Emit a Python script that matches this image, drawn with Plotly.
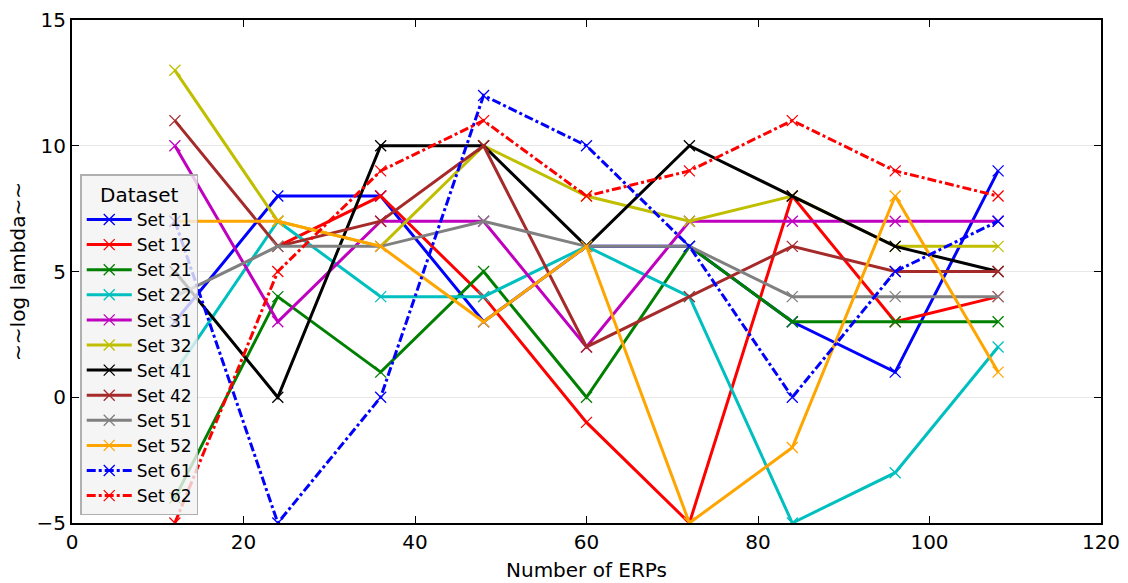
import plotly.graph_objects as go

x_vals = [12, 24, 36, 48, 60, 72, 84, 96, 108]

set_names = ["Set 11", "Set 12", "Set 21", "Set 22", "Set 31", "Set 32",
             "Set 41", "Set 42", "Set 51", "Set 52", "Set 61", "Set 62"]

set_11 = [3, 8, 8, 3, 6, 6, 3, 1, 9]
set_12 = [None, 6, 8, 4, -1, -5, 8, 3, 4]
set_21 = [-4, 4, 1, 5, 0, 6, 3, 3, 3]
set_22 = [1, 7, 4, 4, 6, 4, -5, -3, 2]
set_31 = [10, 3, 7, 7, 2, 7, 7, 7, 7]
set_32 = [13, 7, 6, 10, 8, 7, 8, 6, 6]
set_41 = [5, 0, 10, 10, 6, 10, 8, 6, 5]
set_42 = [11, 6, 7, 10, 2, 4, 6, 5, 5]
set_51 = [4, 6, 6, 7, 6, 6, 4, 4, 4]
set_52 = [7, 7, 6, 3, 6, -5, -2, 8, 1]
set_61 = [7, -5, 0, 12, 10, 6, 0, 5, 7]
set_62 = [-5, 5, 9, 11, 8, 9, 11, 9, 8]

series = [set_11, set_12, set_21, set_22, set_31, set_32,
          set_41, set_42, set_51, set_52, set_61, set_62]

colors = ["#0000ff", "#ff0000", "#008000", "#00bfbf", "#bf00bf", "#bfbf00",
          "#000000", "#a52a2a", "#808080", "#ffa500", "#0000ff", "#ff0000"]
dashes = ["solid"] * 10 + ["dashdot", "dashdot"]

fig = go.Figure()
for name, ys, c, d in zip(set_names, series, colors, dashes):
    fig.add_trace(go.Scatter(
        x=x_vals, y=ys, name=name, mode="lines+markers",
        line=dict(color=c, width=3, dash=d),
        marker=dict(symbol="x-thin", size=11, color=c, line=dict(width=1.3, color=c)),
        connectgaps=False,
    ))

font_family = "DejaVu Sans"
fig.update_layout(
    width=1128, height=583,
    margin=dict(l=72, r=27, t=20, b=60),
    paper_bgcolor="white", plot_bgcolor="white",
    font=dict(family=font_family, size=20, color="black"),
    showlegend=True,
    legend=dict(
        title=dict(text="Dataset", font=dict(size=20), side="top center"),
        x=0.008, y=0.015, xanchor="left", yanchor="bottom",
        bgcolor="rgba(242,242,242,0.8)", bordercolor="#b0b0b0", borderwidth=1.5,
        font=dict(size=17, family=font_family),
        tracegroupgap=0, itemwidth=45,
    ),
    xaxis=dict(
        range=[0, 120], tickvals=[0, 20, 40, 60, 80, 100, 120],
        showgrid=False, zeroline=False, automargin=False,
        showline=True, linecolor="black", linewidth=2, mirror="ticks",
        ticks="inside", ticklen=7, tickcolor="black", tickwidth=1,
        title=dict(text="Number of ERPs", font=dict(size=20), standoff=10),
        tickfont=dict(size=20),
    ),
    yaxis=dict(
        range=[-5, 15], tickvals=[-5, 0, 5, 10, 15],
        showgrid=True, gridcolor="#e8e8e8", gridwidth=1, zeroline=False, automargin=False,
        showline=True, linecolor="black", linewidth=2, mirror="ticks",
        ticks="inside", ticklen=7, tickcolor="black", tickwidth=1,
        title=dict(text="~~log lambda~~", font=dict(size=20), standoff=6),
        tickfont=dict(size=20),
    ),
)

fig.write_html("out.html")
